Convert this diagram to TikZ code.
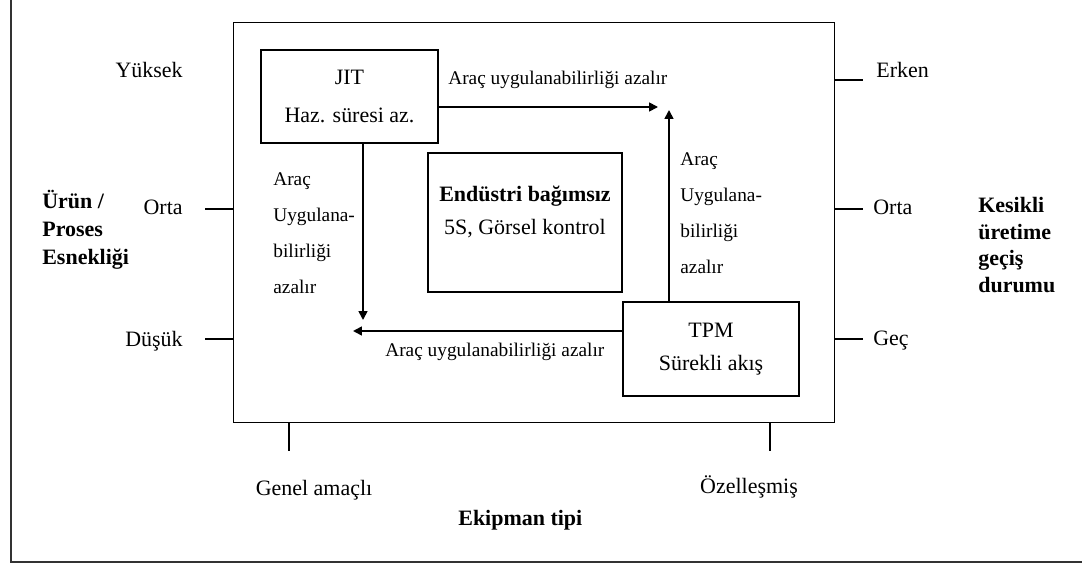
\documentclass[tikz,border=0pt]{standalone}
\usepackage{fontspec}
\setmainfont{Liberation Serif}
\usetikzlibrary{positioning, arrows.meta}

\begin{document}
\begin{tikzpicture}[
        x = 0.02cm, y = -0.02cm,
        frame/.style = {draw=black!80, line width=1.1pt},
        box/.style   = {draw, line width=0.6pt, inner sep=0pt, align=center},
        lbl/.style   = {inner sep=0pt, font=\fontsize{12.5}{15}\selectfont},
        axis/.style  = {inner sep=0pt, align=left, font=\fontsize{12.5}{15.9}\selectfont\bfseries},
        note/.style  = {inner sep=0pt, align=left, font=\fontsize{11}{20.4}\selectfont},
        tick/.style  = {line width=0.75pt},
        arrow/.style = {-{Triangle[length=5pt, width=5pt]}, line width=0.95pt},
    ]
        \useasboundingbox (0,0) rectangle (1082,564);
        \begin{scope}
            \clip (0,0) rectangle (1082,564);
            \draw[frame] (11,-20) rectangle (1100,562);
        \end{scope}

        % field and the three blocks
        \node[box, minimum width=12.04cm, minimum height=8.02cm] (field) at (534,222.5) {};
        \node[box, minimum width=3.54cm, minimum height=1.86cm, font=\fontsize{12.5}{22}\selectfont] (jit) at (349.5,96.5) {JIT\\Haz. süresi az.};
        \node[box, minimum width=3.52cm, minimum height=1.88cm, font=\fontsize{12.5}{18.7}\selectfont] (tpm) at (711,349) {TPM\\Sürekli akış};
        \node[box, minimum width=3.88cm, minimum height=2.78cm] (mid) at (525,222.5) {};
        \node[inner sep=0pt, align=center, font=\fontsize{12.5}{18.7}\selectfont] (midtxt) at (525,212) {\textbf{Endüstri bağımsız}\\5S, Görsel kontrol};

        % arrows round the middle block
        \coordinate (rtTip) at (658,107);
        \coordinate (upTip) at (669,110);
        \coordinate (dnTip) at (363,320);
        \coordinate (lfTip) at (353,331);
        \draw[arrow] (jit.east |- rtTip) -- (rtTip);
        \draw[arrow] (tpm.north -| upTip) -- (upTip);
        \draw[arrow] (jit.south -| dnTip) -- (dnTip);
        \draw[arrow] (tpm.west |- lfTip) -- (lfTip);

        \node[note, anchor=base west] (topnote) at (448,85) {Araç uygulanabilirliği azalır};
        \node[note, anchor=base west] (botnote) at (385,357) {Araç uygulanabilirliği azalır};
        \node[note, anchor=west] (leftnote) at (273,233) {Araç\\Uygulana-\\bilirliği\\azalır};
        \node[note, anchor=west] (rightnote) at (680,213) {Araç\\Uygulana-\\bilirliği\\azalır};

        % left scale
        \node[lbl, anchor=base east] (yuksek) at (183,78) {Yüksek};
        \node[lbl, anchor=base east] (ortaL) at (183,215) {Orta};
        \node[lbl, anchor=base east] (dusuk) at (183,346) {Düşük};
        \draw[tick] (field.west |- 0,209) -- +(-28,0);
        \draw[tick] (field.west |- 0,339) -- +(-28,0);
        \node[axis, anchor=west] (urun) at (42,230) {Ürün /\\Proses\\Esnekliği};

        % right scale
        \node[lbl, anchor=base west] (erken) at (876,78) {Erken};
        \node[lbl, anchor=base west] (ortaR) at (873,215) {Orta};
        \node[lbl, anchor=base west] (gec) at (873,345) {Geç};
        \draw[tick] (field.east |- 0,80) -- +(28,0);
        \draw[tick] (field.east |- 0,209) -- +(28,0);
        \draw[tick] (field.east |- 0,339) -- +(28,0);
        \node[axis, anchor=west, font=\fontsize{12.5}{15.1}\selectfont\bfseries] (kesikli) at (978,245) {Kesikli\\üretime\\geçiş\\durumu};

        % bottom scale
        \draw[tick] (field.south -| 289,0) -- +(0,28);
        \draw[tick] (field.south -| 770,0) -- +(0,28);
        \node[lbl, anchor=base] (genel) at (314,495) {Genel amaçlı};
        \node[lbl, anchor=base] (ozel) at (749,493) {Özelleşmiş};
        \node[lbl, anchor=base west, font=\fontsize{12.5}{15}\selectfont\bfseries] (ekipman) at (458,525) {Ekipman tipi};
    \end{tikzpicture}
\end{document}
